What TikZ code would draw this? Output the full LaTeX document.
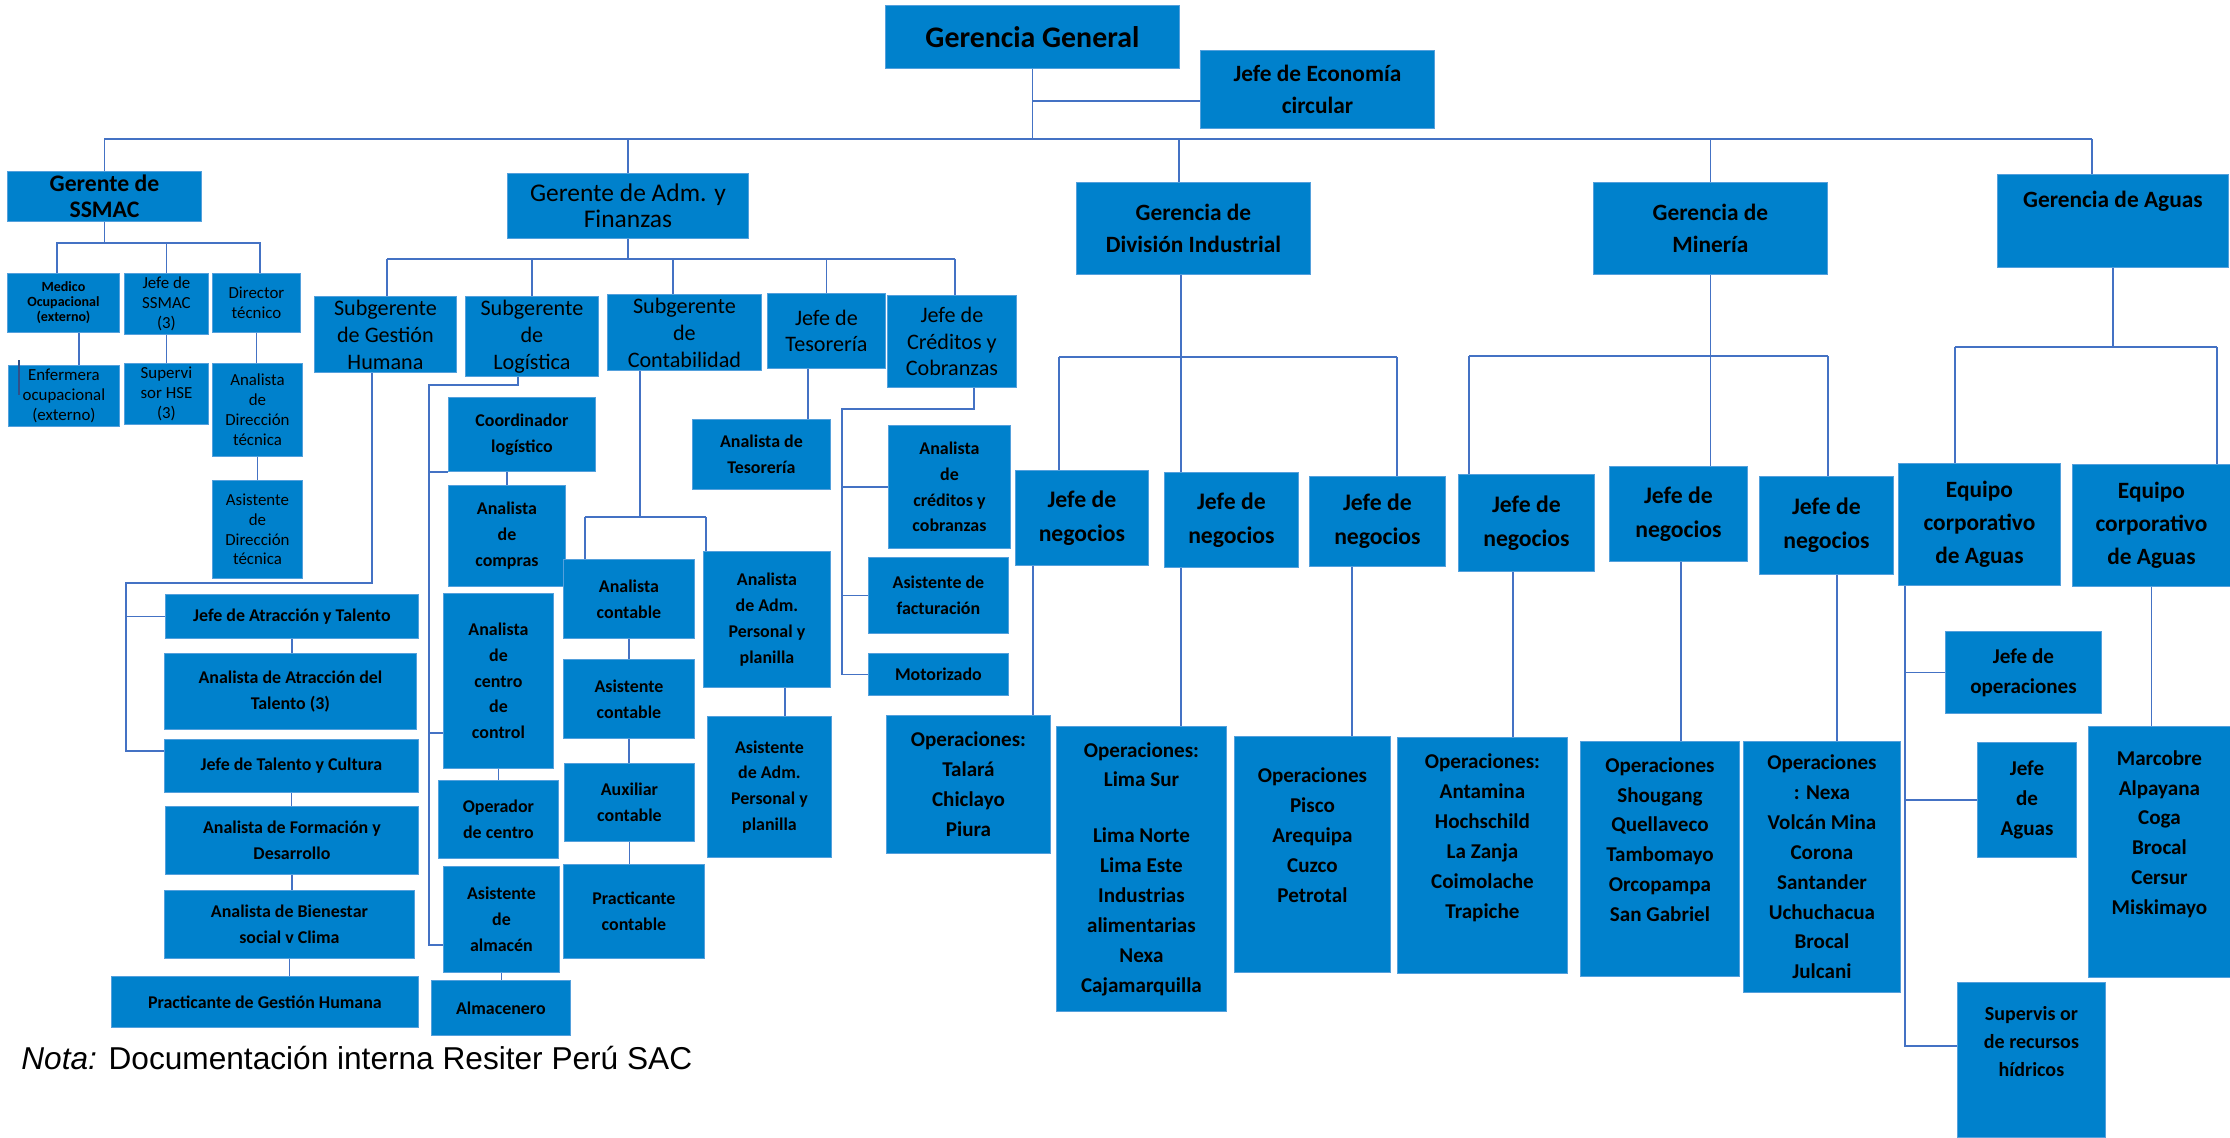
\documentclass[tikz,border=0pt]{standalone}
\usepackage{fontspec}
\setmainfont{Carlito}
\newfontfamily\notafont{Liberation Sans}
\usetikzlibrary{positioning}
\definecolor{boxblue}{RGB}{0,129,204}
\definecolor{boxrim}{RGB}{84,160,220}
\definecolor{linkblue}{RGB}{68,114,196}
\newcommand{\fsz}[2]{\fontsize{#1}{#2}\selectfont}

\begin{document}
\begin{tikzpicture}[x=0.02cm, y=-0.02cm,
  box/.style={fill=boxblue, draw=boxrim, line width=0.5pt, anchor=north west,
              align=center, inner sep=2pt, text=black},
  wh/.style 2 args={minimum width=#1*0.02cm, minimum height=#2*0.02cm},
  ftitle/.style={font=\bfseries\fsz{17}{20}},
  fmid/.style={font=\bfseries\fsz{13.3}{18.7}},
  fneg/.style={font=\bfseries\fsz{13.5}{19.3}},
  fops/.style={font=\bfseries\fsz{12}{17}},
  fsmall/.style={font=\bfseries\fsz{10.2}{14.7}},
  fsub/.style={font=\fsz{12.6}{15.3}},
  ftiny/.style={font=\fsz{9.6}{11.3}},
  ftinyb/.style={font=\bfseries\fsz{8}{8.6}},
  link/.style={draw=linkblue, line width=0.8pt}]
  \useasboundingbox (0,0) rectangle (2230,1138);

  \node[box, wh={294}{63}, ftitle] (gg) at (885,5) {Gerencia General};
  \node[box, wh={234}{78}, fmid] (econ) at (1200,50) {Jefe de Economía\\circular};
  \node[box, wh={194}{50}, font=\bfseries\fsz{13.5}{14.7}] (ssmac) at (7,171) {Gerente de\\SSMAC};
  \node[box, wh={241}{65}, font=\fsz{14.5}{15}] (adm) at (507,173) {Gerente de Adm. y\\Finanzas};
  \node[box, wh={234}{92}, fmid] (divind) at (1076,182) {Gerencia de\\División Industrial};
  \node[box, wh={234}{92}, fmid] (mineria) at (1593,182) {Gerencia de\\Minería};
  \node[box, wh={231}{93}, fmid] (aguas) at (1997,174) {Gerencia de Aguas\\\strut};

  \node[box, wh={112}{59}, ftinyb] (medico) at (7,273) {Medico\\Ocupacional\\(externo)};
  \node[box, wh={84}{59}, ftiny] (jssmac) at (124,273) {Jefe de\\SSMAC\\(3)};
  \node[box, wh={88}{59}, ftiny] (dirtec) at (212,273) {Director\\técnico};
  \node[box, wh={111}{59}, ftiny] (enferm) at (8,365) {Enfermera\\ocupacional\\(externo)};
  \node[box, wh={84}{59}, ftiny] (superv) at (124,363) {Supervi\\sor HSE\\(3)};
  \node[box, wh={90}{93}, ftiny] (anadir) at (212,363) {Analista\\de\\Dirección\\técnica};
  \node[box, wh={90}{98}, ftiny] (asidir) at (212,480) {Asistente\\de\\Dirección\\técnica};

  \node[box, wh={142}{74}, fsub] (gh) at (314,296) {Subgerente\\de Gestión\\Humana};
  \node[box, wh={133}{72}, fsub] (logis) at (465,296) {Subgerente\\de\\Logística};
  \node[box, wh={154}{74}, fsub] (conta) at (607,294) {Subgerente\\de\\Contabilidad};
  \node[box, wh={118}{75}, fsub] (teso) at (767,293) {Jefe de\\Tesorería};
  \node[box, wh={129}{92}, fsub] (cred) at (887,295) {Jefe de\\Créditos y\\Cobranzas};

  \node[box, wh={253}{44}, fsmall] (jat) at (165,594) {Jefe de Atracción y Talento};
  \node[box, wh={252}{76}, fsmall] (aat) at (164,653) {Analista de Atracción del\\Talento (3)};
  \node[box, wh={254}{53}, fsmall] (jtc) at (164,739) {Jefe de Talento y Cultura};
  \node[box, wh={253}{68}, fsmall] (afd) at (165,806) {Analista de Formación y\\Desarrollo};
  \node[box, wh={250}{68}, fsmall] (abs) at (164,890) {Analista de Bienestar\\social v Clima};
  \node[box, wh={307}{51}, fsmall] (pgh) at (111,976) {Practicante de Gestión Humana};

  \node[box, wh={147}{74}, fsmall] (coord) at (448,397) {Coordinador\\logístico};
  \node[box, wh={117}{101}, fsmall] (acomp) at (448,485) {Analista\\de\\compras};
  \node[box, wh={110}{175}, fsmall] (acc) at (443,593) {Analista\\de\\centro\\de\\control};
  \node[box, wh={120}{78}, fsmall] (opc) at (438,780) {Operador\\de centro};
  \node[box, wh={116}{106}, fsmall] (asalm) at (443,866) {Asistente\\de\\almacén};
  \node[box, wh={139}{55}, fsmall] (alm) at (431,980) {Almacenero};

  \node[box, wh={131}{79}, fsmall] (acont) at (563,559) {Analista\\contable};
  \node[box, wh={131}{79}, fsmall] (asicont) at (563,659) {Asistente\\contable};
  \node[box, wh={130}{78}, fsmall] (auxcont) at (564,763) {Auxiliar\\contable};
  \node[box, wh={141}{94}, fsmall] (pracont) at (563,864) {Practicante\\contable};
  \node[box, wh={127}{136}, fsmall] (aadm) at (703,551) {Analista\\de Adm.\\Personal y\\planilla};
  \node[box, wh={124}{141}, fsmall] (asadm) at (707,716) {Asistente\\de Adm.\\Personal y\\planilla};

  \node[box, wh={138}{70}, fsmall] (ateso) at (692,419) {Analista de\\Tesorería};
  \node[box, wh={122}{123}, fsmall] (acred) at (888,425) {Analista\\de\\créditos y\\cobranzas};
  \node[box, wh={140}{76}, fsmall] (afact) at (868,557) {Asistente de\\facturación};
  \node[box, wh={140}{42}, fsmall] (moto) at (868,653) {Motorizado};

  \node[box, wh={133}{95}, fneg] (jn1) at (1015,470) {Jefe de\\negocios};
  \node[box, wh={134}{95}, fneg] (jn2) at (1164,472) {Jefe de\\negocios};
  \node[box, wh={136}{90}, fneg] (jn3) at (1309,476) {Jefe de\\negocios};
  \node[box, wh={136}{97}, fneg] (jn4) at (1458,474) {Jefe de\\negocios};
  \node[box, wh={138}{95}, fneg] (jn5) at (1609,466) {Jefe de\\negocios};
  \node[box, wh={134}{98}, fneg] (jn6) at (1759,476) {Jefe de\\negocios};

  \node[box, wh={164}{138}, fops] (ops1) at (886,715) {Operaciones:\\Talará\\Chiclayo\\Piura};
  \node[box, wh={170}{285}, fops] (ops2) at (1056,726) {Operaciones:\\Lima Sur\\[14.7pt]Lima Norte\\Lima Este\\Industrias\\alimentarias\\Nexa\\Cajamarquilla};
  \node[box, wh={156}{236}, fops] (ops3) at (1234,736) {Operaciones\\Pisco\\Arequipa\\Cuzco\\Petrotal\\\strut};
  \node[box, wh={170}{236}, fops] (ops4) at (1397,737) {Operaciones:\\Antamina\\Hochschild\\La Zanja\\Coimolache\\Trapiche\\\strut};
  \node[box, wh={159}{235}, fops] (ops5) at (1580,741) {Operaciones\\Shougang\\Quellaveco\\Tambomayo\\Orcopampa\\San Gabriel\\\strut};
  \node[box, wh={157}{251}, fops] (ops6) at (1743,741) {Operaciones\\: Nexa\\Volcán Mina\\Corona\\Santander\\Uchuchacua\\Brocal\\Julcani};

  \node[box, wh={162}{122}, fmid] (eq1) at (1898,463) {Equipo\\corporativo\\de Aguas};
  \node[box, wh={158}{122}, fmid] (eq2) at (2072,464) {Equipo\\corporativo\\de Aguas};
  \node[box, wh={156}{82}, fops] (jop) at (1945,631) {Jefe de\\operaciones};
  \node[box, wh={99}{115}, fops] (jag) at (1977,742) {Jefe\\de\\Aguas};
  \node[box, wh={148}{155}, font=\bfseries\fsz{11.4}{15.9}] (sup) at (1957,982) {Supervis or\\de recursos\\hídricos\\\strut};
  \node[box, wh={142}{251}, fops] (marc) at (2088,726) {Marcobre\\Alpayana\\Coga\\Brocal\\Cersur\\Miskimayo\\\strut};

  \node[anchor=west, inner sep=0pt, font=\notafont\fsz{18}{21}] (nota) at (21,1058) {\textit{Nota:} Documentación interna Resiter Perú SAC};

  \coordinate (busL) at (104,139);
  \coordinate (busR) at (2092,139);
  \draw[link] (gg.south) -- (gg.south |- busL);
  \draw[link] (gg.south |- 0,101) -- (econ.west |- 0,101);
  \draw[link] (busL) -- (busR);
  \draw[link] (ssmac.north |- busL) -- (ssmac.north);
  \draw[link] (adm.north |- busL) -- (adm.north);
  \draw[link] (divind.north -| 1179,0) -- (busL -| 1179,0);
  \draw[link] (mineria.north |- busL) -- (mineria.north);
  \draw[link] (busR) -- (aguas.north -| busR);

  \coordinate (ssL) at (57,243);
  \coordinate (ssR) at (260,243);
  \draw[link] (ssmac.south) -- (ssmac.south |- ssL);
  \draw[link] (medico.north -| ssL) -- (ssL) -- (ssR) -- (dirtec.north -| ssR);
  \draw[link] (jssmac.north) -- (jssmac.north |- ssL);
  \draw[link] (medico.south -| 79,0) -- (enferm.north -| 79,0);
  \draw[link] (jssmac.south) -- (jssmac.south |- superv.north);
  \draw[link] (dirtec.south) -- (dirtec.south |- anadir.north);
  \draw[link] (anadir.south) -- (anadir.south |- asidir.north);
  \draw[link, line width=1.1pt, draw=linkblue!70!black] (enferm.north west) ++(11,-5) -- ++(0,35);

  \coordinate (admL) at (387,259);
  \coordinate (admR) at (955,259);
  \draw[link] (adm.south) -- (adm.south |- admL);
  \draw[link] (admL) -- (admR);
  \draw[link] (admL) -- (gh.north -| admL);
  \draw[link] (logis.north) -- (logis.north |- admL);
  \draw[link] (conta.north -| 673,0) -- (admL -| 673,0);
  \draw[link] (teso.north) -- (teso.north |- admL);
  \draw[link] (admR) -- (cred.north -| admR);

  \coordinate (ghbus) at (126,583);
  \draw[link] (gh.south -| 372,0) |- (ghbus) |- (jtc.west |- 0,751);
  \draw[link] (ghbus |- jat.west) -- (jat.west);
  \draw[link] (jat.south) -- (jat.south |- aat.north);
  \draw[link] (jtc.south) -- (jtc.south |- afd.north);
  \draw[link] (afd.south) -- (afd.south |- abs.north);
  \draw[link] (abs.south) -- (abs.south |- pgh.north);

  \coordinate (logbus) at (429,385);
  \draw[link] (logis.south -| 518,0) |- (logbus) |- (asalm.west |- 0,945);
  \draw[link] (logbus |- coord.south west) -- (coord.south west);
  \draw[link] (logbus |- 0,733) -- (acc.west |- 0,733);
  \draw[link] (coord.south -| acomp.north) -- (acomp.north);
  \draw[link] (acc.south) -- (acc.south |- opc.north);
  \draw[link] (asalm.south) -- (asalm.south |- alm.north);

  \coordinate (contL) at (585,517);
  \coordinate (contR) at (706,517);
  \draw[link] (conta.south -| 640,0) -- (contL -| 640,0);
  \draw[link] (contL) -- (contR);
  \draw[link] (contL) -- (acont.north -| contL);
  \draw[link] (contR) -- (aadm.north -| contR);
  \draw[link] (acont.south) -- (acont.south |- asicont.north);
  \draw[link] (asicont.south) -- (asicont.south |- auxcont.north);
  \draw[link] (auxcont.south) -- (auxcont.south |- pracont.north);
  \draw[link] (aadm.south -| 785,0) -- (asadm.north -| 785,0);

  \draw[link] (teso.south -| 808,0) -- (ateso.north -| 808,0);

  \coordinate (credbus) at (842,409);
  \draw[link] (cred.south -| 974,0) |- (credbus) |- (moto.west);
  \draw[link] (credbus |- acred.west) -- (acred.west);
  \draw[link] (credbus |- afact.west) -- (afact.west);

  \coordinate (diL) at (1059,357);
  \coordinate (diR) at (1397,357);
  \draw[link] (divind.south -| 1181,0) -- (jn2.north -| 1181,0);
  \draw[link] (diL) -- (diR);
  \draw[link] (diL) -- (jn1.north -| diL);
  \draw[link] (diR) -- (jn3.north -| diR);
  \draw[link] (jn1.south -| 1033,0) -- (ops1.north -| 1033,0);
  \draw[link] (jn2.south -| 1181,0) -- (ops2.north -| 1181,0);
  \draw[link] (jn3.south -| 1352,0) -- (ops3.north -| 1352,0);

  \coordinate (miL) at (1469,356);
  \coordinate (miR) at (1828,356);
  \draw[link] (mineria.south) -- (mineria.south |- jn5.north);
  \draw[link] (miL) -- (miR);
  \draw[link] (miL) -- (jn4.north -| miL);
  \draw[link] (miR) -- (jn6.north -| miR);
  \draw[link] (jn4.south -| 1513,0) -- (ops4.north -| 1513,0);
  \draw[link] (jn5.south -| 1681,0) -- (ops5.north -| 1681,0);
  \draw[link] (jn6.south -| 1837,0) -- (ops6.north -| 1837,0);

  \coordinate (agL) at (1955,347);
  \coordinate (agR) at (2217,347);
  \draw[link] (aguas.south) -- (aguas.south |- agL);
  \draw[link] (agL) -- (agR);
  \draw[link] (agL) -- (eq1.north -| agL);
  \draw[link] (agR) -- (eq2.north -| agR);
  \draw[link] (eq1.south -| 1905,0) |- (sup.west |- 0,1046);
  \draw[link] (jop.west -| 1905,0) -- (jop.west);
  \draw[link] (jag.west -| 1905,0) -- (jag.west);
  \draw[link] (eq2.south) -- (eq2.south |- marc.north);
\end{tikzpicture}
\end{document}
